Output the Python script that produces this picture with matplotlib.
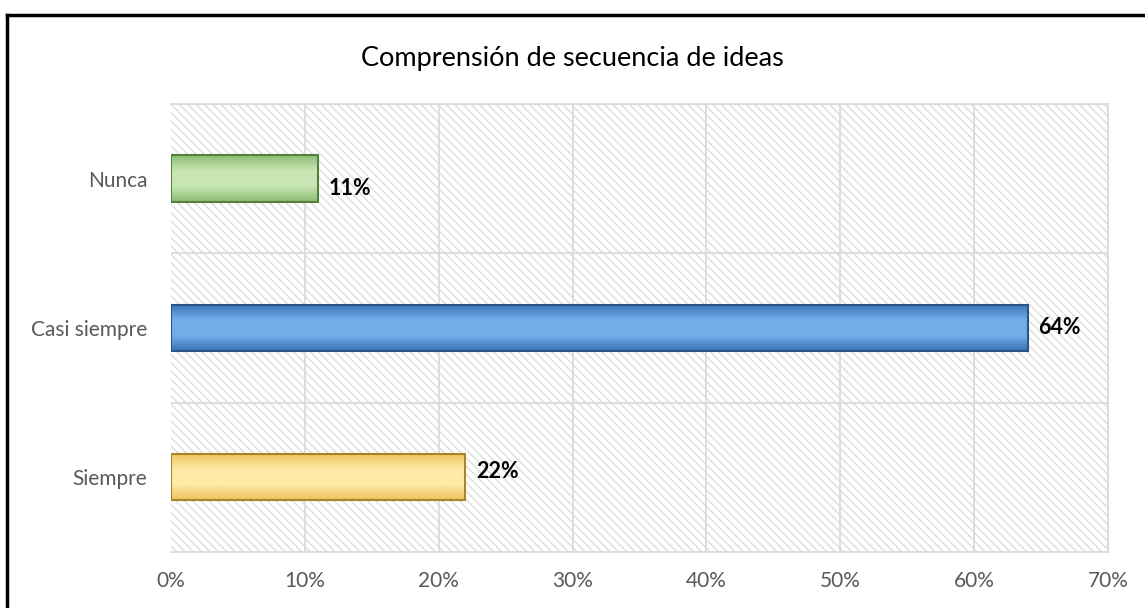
import numpy as np
import matplotlib
matplotlib.use('Agg')
import matplotlib.pyplot as plt
from matplotlib.patches import Rectangle
from matplotlib.lines import Line2D
from matplotlib.colors import LinearSegmentedColormap

plt.rcParams['font.family'] = ['Lato', 'DejaVu Sans']
plt.rcParams['hatch.color'] = '#dadada'
plt.rcParams['hatch.linewidth'] = 0.9

# Data (bottom to top)
categories = ['Siempre', 'Casi siempre', 'Nunca']
values = [22, 64, 11]
labels = ['22%', '64%', '11%']
# (top colour, bottom colour, edge colour)
bar_colors = [('#ffeaa6', '#eec25a', '#a9852a'),
              ('#74aeea', '#3a72b8', '#2c5586'),
              ('#c8e6b4', '#8cbd74', '#557f3e')]

fig = plt.figure(figsize=(11.45, 6.08), dpi=100)
ax = fig.add_axes([0.1493, 0.0921, 0.8184, 0.7369])

ax.set_xlim(0, 70)
ax.set_ylim(-0.5, len(categories) - 0.5)

# hatched plot area
ax.add_patch(Rectangle((0, -0.5), 70, len(categories), facecolor='white',
                       edgecolor='#dadada', hatch='\\\\\\\\', lw=0, zorder=0))

for x in range(10, 71, 10):
    ax.axvline(x, color='#d9d9d9', lw=1.2, zorder=1)
for y in np.arange(0.5, len(categories), 1.0):
    ax.axhline(y, color='#d9d9d9', lw=1.2, zorder=1)

bh = 0.31
label_dy = [0.04, 0.0, -0.065]  # excel places the labels a bit off-centre
for i, (v, (ctop, cbot, cedge)) in enumerate(zip(values, bar_colors)):
    cmap = LinearSegmentedColormap.from_list('g', [cbot, ctop, ctop, cbot])
    grad = np.linspace(0, 1, 100).reshape(-1, 1)
    im = ax.imshow(grad, cmap=cmap, aspect='auto', origin='lower',
                   extent=(0, v, i - bh / 2, i + bh / 2), zorder=2)
    rect = Rectangle((0, i - bh / 2), v, bh, facecolor='none',
                     edgecolor=cedge, lw=1.5, zorder=3)
    ax.add_patch(rect)
    im.set_clip_path(rect)
    ax.text(v + 0.8, i + label_dy[i], labels[i], va='center', ha='left',
            fontsize=15.5, fontweight='bold', color='black')

ax.set_yticks(range(len(categories)))
ax.set_yticklabels(categories)
ax.set_xticks(range(0, 71, 10))
ax.set_xticklabels([f'{x}%' for x in range(0, 71, 10)])
ax.tick_params(axis='both', length=0, labelsize=15, colors='#595959')
ax.tick_params(axis='y', pad=17)
ax.tick_params(axis='x', pad=14)

ax.spines['left'].set_visible(False)
for s in ['bottom', 'top', 'right']:
    ax.spines[s].set_color('#d9d9d9')
    ax.spines[s].set_linewidth(1.2)

fig.text(0.5, 0.903, 'Comprensión de secuencia de ideas', ha='center',
         va='center', fontsize=19.5, color='black')

# outer chart border (cropped)
fig.add_artist(Line2D([0.0065, 0.0065], [0, 1 - 15 / 608], color='black', lw=2.5))
fig.add_artist(Line2D([0.0065, 1], [1 - 15 / 608, 1 - 15 / 608], color='black', lw=2.5))

fig.savefig('out.png', dpi=100)
